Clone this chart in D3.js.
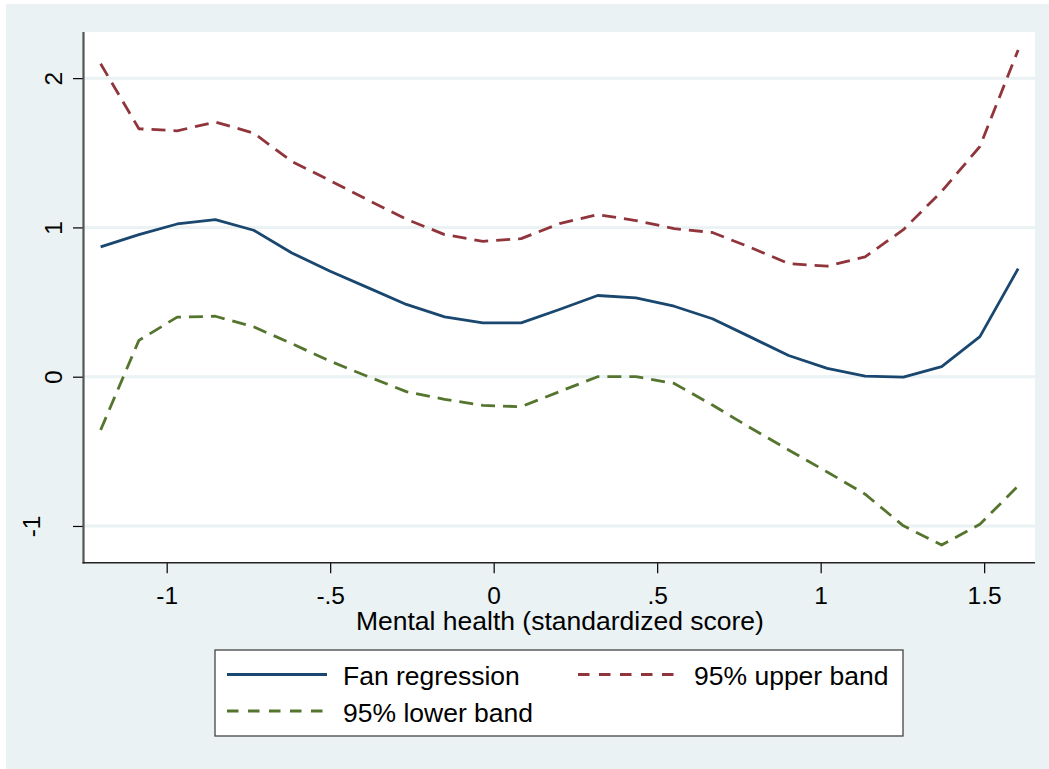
<!DOCTYPE html>
<html>
<head>
<meta charset="utf-8">
<script src="https://cdn.jsdelivr.net/npm/d3@7"></script>
<style>
  html, body { margin: 0; padding: 0; background: #ffffff; }
  svg { display: block; font-family: "Liberation Sans", Arial, sans-serif; }
</style>
</head>
<body>
<svg id="chart" width="1049" height="769"></svg>
<script>
// Grid of mental-health scores at which the fan regression was evaluated
const xGrid = [-1.202, -1.085, -0.968, -0.851, -0.734, -0.617, -0.500, -0.383, -0.267,
  -0.150, -0.033, 0.084, 0.201, 0.318, 0.435, 0.552, 0.669, 0.786, 0.902, 1.020,
  1.136, 1.253, 1.370, 1.487, 1.604];

// Smoothed estimate
const fanFit = [0.870, 0.952, 1.023, 1.052, 0.981, 0.829, 0.706, 0.595, 0.484,
  0.401, 0.361, 0.361, 0.450, 0.544, 0.528, 0.472, 0.388, 0.265, 0.142, 0.056,
  0.004, -0.003, 0.067, 0.268, 0.724];

// 95% confidence band
const upperBand = [2.096, 1.661, 1.647, 1.706, 1.632, 1.442, 1.313, 1.182, 1.055,
  0.952, 0.907, 0.925, 1.025, 1.086, 1.046, 0.992, 0.966, 0.865, 0.758, 0.740,
  0.803, 0.985, 1.241, 1.542, 2.189];
const lowerBand = [-0.357, 0.243, 0.399, 0.405, 0.334, 0.221, 0.104, 0.000, -0.100,
  -0.152, -0.192, -0.201, -0.100, 0.000, 0.000, -0.045, -0.190, -0.344, -0.491, -0.638,
  -0.787, -0.999, -1.128, -0.988, -0.732];

const xTicks = [-1, -0.5, 0, 0.5, 1, 1.5];
const xTickLabels = ["-1", "-.5", "0", ".5", "1", "1.5"];
const yTicks = [-1, 0, 1, 2];
const yTickLabels = ["-1", "0", "1", "2"];

const xTitle = "Mental health (standardized score)";
const seriesNames = ["Fan regression", "95% upper band", "95% lower band"];

const colBg = "#eaf2f3";
const colFit = "#1a476f";
const colUp = "#90353b";
const colLo = "#55752f";

const svg = d3.select("#chart");

// background of the graph region
svg.append("rect").attr("x", 6).attr("y", 4).attr("width", 1043).attr("height", 765)
  .attr("fill", colBg);

const plot = { left: 83.5, right: 1035, top: 32, bottom: 562.7 };

const x = d3.scaleLinear().domain([-1.2544, 1.6555]).range([plot.left, plot.right]);
const y = d3.scaleLinear().domain([-1.246, 2.309]).range([plot.bottom, plot.top]);

// plot region
svg.append("rect")
  .attr("x", plot.left).attr("y", plot.top)
  .attr("width", plot.right - plot.left).attr("height", plot.bottom - plot.top)
  .attr("fill", "#ffffff");

// horizontal grid lines
svg.append("g").selectAll("line").data(yTicks).join("line")
  .attr("x1", plot.left).attr("x2", plot.right)
  .attr("y1", d => y(d)).attr("y2", d => y(d))
  .attr("stroke", colBg).attr("stroke-width", 3);

// y axis (vertical labels; the negative label sits further out)
const yLabelShift = d => (d < 0 ? -43.5 : -21.5);
const yAxis = svg.append("g").attr("transform", `translate(${plot.left},0)`)
  .call(d3.axisLeft(y).tickValues(yTicks).tickFormat((d, i) => yTickLabels[i])
    .tickSize(10.5).tickPadding(0));
yAxis.select(".domain").remove();
yAxis.selectAll(".tick line").attr("stroke", "#000").attr("stroke-width", 1.2);
yAxis.selectAll(".tick text")
  .attr("x", null).attr("dy", null)
  .attr("transform", d => `translate(${yLabelShift(d)},0) rotate(-90)`)
  .attr("text-anchor", "middle")
  .attr("font-size", 24.5).attr("fill", "#000");
svg.append("line")
  .attr("x1", plot.left).attr("x2", plot.left)
  .attr("y1", plot.top).attr("y2", plot.bottom + 0.8)
  .attr("stroke", "#555").attr("stroke-width", 2.2);

// x axis
const xAxis = svg.append("g").attr("transform", `translate(0,${plot.bottom})`)
  .call(d3.axisBottom(x).tickValues(xTicks).tickFormat((d, i) => xTickLabels[i])
    .tickSize(10.5).tickPadding(0));
xAxis.select(".domain").remove();
xAxis.selectAll(".tick line").attr("stroke", "#000").attr("stroke-width", 1.2);
xAxis.selectAll(".tick text")
  .attr("y", 41.3).attr("dy", null)
  .attr("font-size", 24.5).attr("fill", "#000");
svg.append("line")
  .attr("x1", plot.left - 1).attr("x2", plot.right)
  .attr("y1", plot.bottom).attr("y2", plot.bottom)
  .attr("stroke", "#222").attr("stroke-width", 1.6);

// axis title
svg.append("text")
  .attr("x", (x(-1.0) + x(1.5)) / 2 - 15.5).attr("y", 629.5)
  .attr("text-anchor", "middle").attr("font-size", 26.5).attr("fill", "#000")
  .text(xTitle);

// curves
const line = d3.line().x(d => x(d[0])).y(d => y(d[1])).curve(d3.curveLinear);
const series = [
  { values: upperBand, color: colUp, dash: "14,8" },
  { values: lowerBand, color: colLo, dash: "14,8" },
  { values: fanFit, color: colFit, dash: null }
];
svg.append("g").selectAll("path").data(series).join("path")
  .attr("d", s => line(xGrid.map((xv, i) => [xv, s.values[i]])))
  .attr("fill", "none")
  .attr("stroke", s => s.color)
  .attr("stroke-width", 2.8)
  .attr("stroke-linejoin", "round")
  .attr("stroke-dasharray", s => s.dash);

// legend
const legend = svg.append("g");
legend.append("rect")
  .attr("x", 215).attr("y", 650).attr("width", 688).attr("height", 86)
  .attr("fill", "#ffffff").attr("stroke", "#444").attr("stroke-width", 1.3);

const legendItems = [
  { name: seriesNames[0], color: colFit, dash: null, lx: 227, ly: 674.5 },
  { name: seriesNames[1], color: colUp, dash: "11.5,9.5", lx: 578, ly: 674.5 },
  { name: seriesNames[2], color: colLo, dash: "11.5,9.5", lx: 227, ly: 711 }
];
const li = legend.selectAll("g.item").data(legendItems).join("g").attr("class", "item");
li.append("line")
  .attr("x1", d => d.lx).attr("x2", d => d.lx + 100)
  .attr("y1", d => d.ly).attr("y2", d => d.ly)
  .attr("stroke", d => d.color).attr("stroke-width", 2.8)
  .attr("stroke-dasharray", d => d.dash);
li.append("text")
  .attr("x", d => d.lx + 116).attr("y", d => d.ly + 10.5)
  .attr("font-size", 26.5).attr("fill", "#000")
  .text(d => d.name);
</script>
</body>
</html>
